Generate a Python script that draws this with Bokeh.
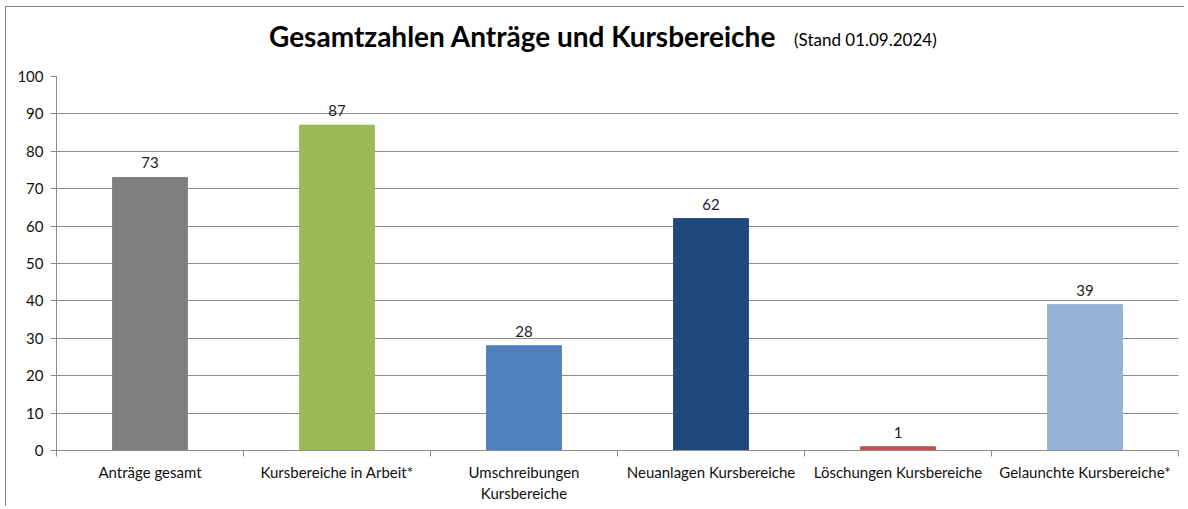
from bokeh.plotting import figure
from bokeh.models import Range1d, FixedTicker, ColumnDataSource, Div
from bokeh.layouts import column
from bokeh.core.properties import value
from bokeh.embed import file_html
from bokeh.resources import INLINE

title_text = "Gesamtzahlen Anträge und Kursbereiche"
subtitle_text = "(Stand 01.09.2024)"
categories = ["Anträge gesamt", "Kursbereiche in Arbeit*", "Umschreibungen\nKursbereiche",
              "Neuanlagen Kursbereiche", "Löschungen Kursbereiche", "Gelaunchte Kursbereiche*"]
values = [73, 87, 28, 62, 1, 39]
colors = ["#7f7f7f", "#9bbb59", "#4f81bd", "#1f497d", "#c0504d", "#95b3d7"]
y_ticks = list(range(0, 101, 10))

FONT = "Lato"
GRID = "#8c8c8c"
BORDER = "#868686"

n = len(categories)
centers = [i + 0.5 for i in range(n)]
src = ColumnDataSource(dict(x=centers, top=values, color=colors,
                            label=[str(v) for v in values]))

p = figure(width=1179, height=445, output_backend="svg", toolbar_location=None,
           x_range=Range1d(0, n), y_range=Range1d(0, 100),
           min_border_left=50, min_border_right=7, min_border_top=14, min_border_bottom=57)
p.outline_line_color = None
p.margin = 0

p.vbar(x="x", top="top", width=0.4, color="color", source=src)
p.text(x="x", y="top", text="label", source=src, text_align="center", text_baseline="bottom",
       y_offset=-9, text_font=value(FONT), text_font_size="15px", text_color="#222222")

# x axis
p.xaxis.ticker = FixedTicker(ticks=centers, minor_ticks=list(range(n + 1)))
p.xaxis.major_label_overrides = {c: lab for c, lab in zip(centers, categories)}
p.xaxis.major_tick_line_color = None
p.xaxis.major_tick_out = 0
p.xaxis.minor_tick_out = 6
p.xaxis.minor_tick_in = 0
p.xaxis.minor_tick_line_color = GRID
p.xaxis.axis_line_color = GRID
p.xaxis.major_label_standoff = 6
p.xaxis.major_label_text_font = FONT
p.xaxis.major_label_text_font_size = "15px"
p.xaxis.major_label_text_color = "#111111"
p.xgrid.grid_line_color = None

# y axis
p.yaxis.ticker = FixedTicker(ticks=y_ticks, minor_ticks=[])
p.yaxis.major_tick_out = 6
p.yaxis.major_tick_in = 0
p.yaxis.major_tick_line_color = GRID
p.yaxis.axis_line_color = GRID
p.yaxis.major_label_standoff = 7
p.yaxis.major_label_text_font = FONT
p.yaxis.major_label_text_font_size = "15px"
p.yaxis.major_label_text_color = "#111111"
p.ygrid.grid_line_color = GRID
p.ygrid.grid_line_width = 1

html = (
    '<div style="position:relative;width:1179px;height:55px;font-family:Lato;color:#000;">'
    f'<span style="position:absolute;left:263px;top:15px;font-size:28px;line-height:28px;'
    f'font-weight:bold;white-space:nowrap;">{title_text}</span>'
    f'<span style="position:absolute;left:788px;top:24px;font-size:17px;line-height:17px;'
    f'white-space:nowrap;">{subtitle_text}</span>'
    '</div>'
)
div = Div(text=html, width=1179, height=55, margin=0)

layout = column(div, p, spacing=0,
                styles={"box-shadow": f"-1px -1px 0 0 {BORDER}",
                        "margin-left": "6px", "margin-top": "7px"})

open("out.html", "w").write(file_html(layout, INLINE))
